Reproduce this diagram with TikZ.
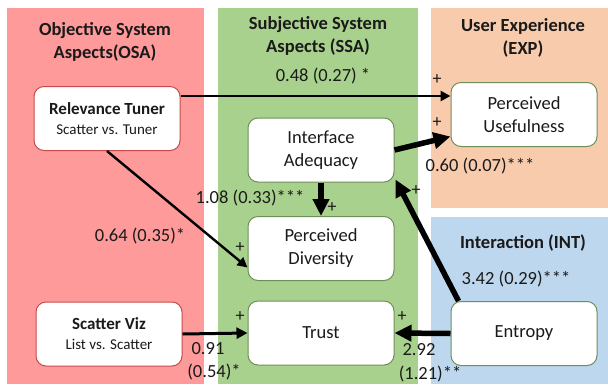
\documentclass[tikz,border=0pt]{standalone}
\usepackage{fontspec}
\setmainfont{Carlito}
\usetikzlibrary{arrows.meta}
\definecolor{osa}{HTML}{FF9A9A}
\definecolor{ssa}{HTML}{A9D18E}
\definecolor{exp}{HTML}{F8CBAD}
\definecolor{int}{HTML}{BDD7EE}
\definecolor{redline}{HTML}{C9494A}
\definecolor{grnline}{HTML}{6E8F58}
\definecolor{txt}{HTML}{1A1A1A}
\newcommand{\mainsz}{\fontsize{18.5}{23}\selectfont}
\newcommand{\subsz}{\fontsize{15}{19}\selectfont}
\newcommand{\ttlsz}{\fontsize{17}{20}\selectfont}
\tikzset{
  panel/.style={fill=#1, draw=none},
  box/.style={draw=#1, fill=white, rounded corners=10pt, line width=1pt,
    minimum width=146pt, minimum height=64pt, align=center, inner sep=0pt,
    font=\mainsz, text=txt},
  lbl/.style={font=\mainsz, text=txt, inner sep=0pt},
  hdr/.style={font=\mainsz\bfseries, text=txt, align=center, inner sep=0pt},
  plus/.style={font=\fontsize{18}{20}\selectfont, text=txt, inner sep=0pt},
  thinarr/.style={line width=2.6pt, -{Triangle[length=10pt,width=10pt]}},
  thickarr/.style={line width=5.5pt, -{Triangle[length=17pt,width=16pt]}},
}
\begin{document}
\begin{tikzpicture}[x=1pt,y=-1pt]
\useasboundingbox (0,0) rectangle (608,384);
\fill[white] (0,0) rectangle (608,384);
% panels
\fill[panel=osa] (7,8) rectangle (204,384);
\fill[panel=ssa] (218,8) rectangle (418,384);
\fill[panel=exp] (431,8) rectangle (608,208);
\fill[panel=int] (431,217) rectangle (608,384);
% headers
\node[hdr] (hosa) at (105,42) {Objective System\\Aspects(OSA)};
\node[hdr] (hssa) at (318,36) {Subjective System\\Aspects (SSA)};
\node[hdr] (hexp) at (523,38) {User Experience\\(EXP)};
\node[hdr] (hint) at (523,243) {Interaction (INT)};
% boxes
\node[box=redline] (rt) at (107,118.5) {{\ttlsz\bfseries Relevance Tuner}\\[-3pt]{\subsz Scatter vs. Tuner}};
\node[box=redline] (sv) at (109,334) {{\ttlsz\bfseries Scatter Viz}\\[-3pt]{\subsz List vs. Scatter}};
\node[box=grnline] (ia) at (321,150) {Interface\\Adequacy};
\node[box=grnline] (pd) at (321,248.5) {Perceived\\Diversity};
\node[box=grnline] (tr) at (321,333) {Trust};
\node[box=grnline] (pu) at (524,114.5) {Perceived\\Usefulness};
\node[box=grnline] (en) at (524,333.5) {Entropy};
% connectors
\draw[thinarr] ([yshift=22.5pt]rt.east) -- ([yshift=18.5pt]pu.west);
\draw[line width=2.4pt, -{Triangle[length=10pt,width=10pt]}] (rt.south) -- ([yshift=-19pt]pd.west);
\draw[thickarr] (ia.east) -- ([yshift=-22pt]pu.west);
\draw[thickarr] (ia.south) -- (pd.north);
\draw[thickarr] ([xshift=8pt]en.north west) -- ([xshift=1pt,yshift=3pt]ia.south east);
\draw[line width=3pt, -{Triangle[length=11pt,width=11pt]}] (sv.east) -- (tr.west);
\draw[thickarr] (en.west) -- (tr.east);
% labels
\node[lbl] (l1) at (323,76) {0.48 (0.27) *};
\node[lbl] (l2) at (480,166) {0.60 (0.07)***};
\node[lbl] (l3) at (250,198) {1.08 (0.33)***};
\node[lbl] (l4) at (140,236) {0.64 (0.35)*};
\node[lbl] (l5) at (208,349) {0.91};
\node[lbl] (l6) at (214,372) {(0.54)*};
\node[lbl] (l7) at (419,350) {2.92};
\node[lbl] (l8) at (430,374) {(1.21)**};
\node[lbl] (l9) at (516,279) {3.42 (0.29)***};
% plus signs
\node[plus] (p1) at (437,80) {+};
\node[plus] (p2) at (437,123) {+};
\node[plus] (p3) at (332,208) {+};
\node[plus] (p4) at (416,191) {+};
\node[plus] (p5) at (240,248) {+};
\node[plus] (p6) at (240,317) {+};
\node[plus] (p7) at (402,317) {+};
\end{tikzpicture}
\end{document}
